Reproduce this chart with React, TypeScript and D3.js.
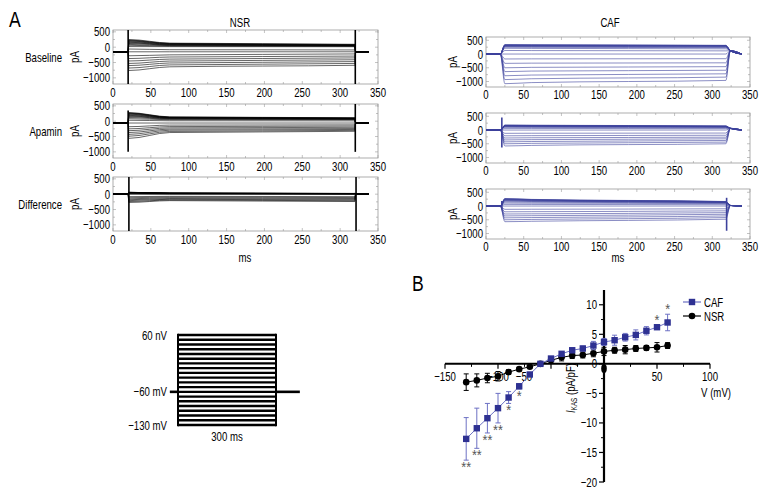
import React from "react";
import * as d3 from "d3";

// ---------------- data ----------------
const stepVoltages = [-130, -120, -110, -100, -90, -80, -70, -60, -50, -40, -30, -20, -10, 0, 10, 20, 30, 40, 50, 60];
const timeTicks = [0, 50, 100, 150, 200, 250, 300, 350];
const currentTicks = [500, 0, -500, -1000];
const rowLabels = ["Baseline", "Apamin", "Difference"];
const groupTitles = ["NSR", "CAF"];

// NSR current traces (pA) per voltage step: value just after onset, early in the step, at end of step
const nsrBaselineStart = [-760, -680, -600, -530, -450, -370, -280, -150, -60, 20, 60, 90, 120, 140, 160, 180, 200, 215, 230, 250];
const nsrBaselineEarly = [-640, -578, -515, -452, -388, -320, -250, -150, -82, 18, 38, 52, 66, 76, 86, 96, 106, 114, 122, 132];
const nsrBaselineEnd = [-590, -530, -470, -410, -350, -290, -220, -150, -90, 15, 28, 38, 46, 52, 58, 64, 70, 76, 84, 95];
const nsrApaminStart = [-560, -490, -430, -370, -310, -250, -180, -60, 30, 80, 120, 150, 170, 190, 210, 230, 245, 260, 270, 280];
const nsrApaminEarly = [-370, -335, -295, -258, -218, -176, -128, -60, 14, 48, 66, 80, 90, 100, 108, 114, 120, 126, 132, 140];
const nsrApaminEnd = [-330, -300, -270, -240, -200, -160, -120, -60, 10, 45, 55, 65, 75, 80, 85, 90, 95, 100, 105, 110];
const nsrDiffStart = [-270, -240, -210, -180, -150, -115, -80, 0, 10, 25, 35, 40, 45, 50, 50, 55, 55, 60, 60, 60];
const nsrDiffEarly = [-210, -190, -165, -145, -120, -95, -70, 0, 5, 15, 20, 25, 25, 30, 30, 30, 35, 35, 35, 35];
const nsrDiffEnd = [-240, -215, -190, -165, -140, -110, -80, 0, 0, 10, 12, 15, 15, 18, 18, 20, 20, 22, 22, 25];
const nsrHold = [-150, -60, 0];
const nsrSpikes = [
  [[20, -1200, 560], [320, -1200, 560]],
  [[20, -1000, 350], [320, -1000, 560]],
  [[21, -1200, 560], [321, -1200, 560]],
];

// CAF current traces (pA)
const cafBaselineStart = [-1080, -930, -790, -640, -500, -340, -180, 0, 130, 210, 250, 270, 285, 297, 306, 315, 322, 330, 335, 340];
const cafBaselineEarly = [-1040, -900, -765, -620, -485, -332, -176, 0, 126, 205, 246, 266, 281, 293, 302, 311, 318, 326, 331, 336];
const cafBaselineEnd = [-960, -840, -720, -590, -460, -320, -170, 0, 115, 190, 230, 250, 265, 278, 288, 296, 302, 308, 312, 316];
const cafApaminStart = [-580, -500, -430, -360, -290, -210, -120, 0, 60, 100, 120, 135, 145, 150, 155, 160, 165, 170, 175, 180];
const cafApaminEarly = [-560, -485, -418, -350, -282, -205, -117, 0, 58, 96, 116, 130, 140, 145, 150, 155, 160, 165, 170, 175];
const cafApaminEnd = [-500, -440, -380, -320, -260, -190, -110, 0, 50, 80, 100, 110, 115, 120, 125, 130, 135, 140, 145, 150];
const cafDiffStart = [-570, -500, -430, -360, -290, -210, -120, 0, 60, 110, 150, 180, 200, 215, 230, 240, 250, 258, 265, 270];
const cafDiffEarly = [-555, -488, -420, -352, -284, -206, -117, 0, 58, 104, 140, 165, 182, 195, 207, 216, 224, 231, 237, 242];
const cafDiffEnd = [-480, -420, -360, -300, -240, -175, -100, 0, 50, 90, 110, 120, 130, 135, 140, 145, 150, 155, 160, 165];
const cafHold = [0, 0, 0];
const cafTailPeak = [120, 60, 20];
const cafSpikes = [
  [],
  [[21, -640, 460]],
  [[21, -120, 180], [319, -900, 300]],
];

// I-V relation (pA/pF)
const ivXTicks = [-150, -100, -50, 50, 100];
const ivXMinor = [-125, -75, -25, 25, 75];
const ivYTicks = [10, 5, 0, -5, -10, -15, -20];
const ivYMinor = [7.5, 2.5, -2.5, -7.5, -12.5, -17.5];
const cafIvMean = [-12.7, -10.9, -9.2, -7.5, -5.7, -3.8, -1.8, 0, 0.9, 1.7, 2.3, 2.6, 3.1, 3.7, 4.0, 4.5, 4.9, 5.6, 6.2, 7.0];
const cafIvErr = [3.6, 3.4, 2.5, 2.5, 1.0, 0.45, 0.3, 0.2, 0.3, 0.35, 0.4, 0.4, 0.7, 0.6, 0.85, 0.65, 0.85, 0.7, 0.3, 1.4];
const nsrIvMean = [-3.1, -2.8, -2.4, -2.1, -1.4, -0.9, -0.5, 0, 0.6, 1.1, 1.4, 1.5, 1.8, 2.1, 2.3, 2.4, 2.6, 2.7, 2.8, 3.1];
const nsrIvErr = [1.4, 1.1, 0.8, 0.8, 0.4, 0.3, 0.2, 0.1, 0.2, 0.6, 0.5, 0.5, 0.6, 0.7, 0.5, 0.7, 0.5, 0.4, 0.8, 0.5];
const cafStars = ["**", "**", "**", "**", "*", "*", "", "", "", "", "", "", "", "", "", "", "", "", "*", "*"];
const legendLabels = ["CAF", "NSR"];

// voltage protocol
const protocolLabels = ["60 nV", "\u221260 mV", "\u2212130 mV"];
const protocolLabelLevels = [60, -60, -130];
const protocolHolding = -60;

// ---------------- layout / style ----------------
const W = 780;
const H = 504;
const FONT = "'Liberation Sans',Arial,sans-serif";
const SX = 0.74; // horizontal condensing of the text
const NAVY = "#2e3192";
const BLUE_LINE = "#6d71c4";
const TRACE_BLUE = "#3d419c";

const fmt = (v: number) => (v < 0 ? "\u2212" + Math.abs(v) : String(v));

function T(props: {
  x: number; y: number; anchor?: string; size?: number; rotate?: number; dy?: string;
  fill?: string; children: React.ReactNode; sx?: number;
}) {
  const { x, y, anchor = "start", size = 13, rotate = 0, dy, fill = "#000", children, sx = SX } = props;
  const tr = `translate(${x},${y})` + (rotate ? ` rotate(${rotate})` : "") + ` scale(${sx},1)`;
  return (
    <text transform={tr} textAnchor={anchor as any} fontSize={size} dy={dy} fill={fill}>
      {children}
    </text>
  );
}

type Spec = { hold: number; start: number[]; early: number[]; end: number[]; spikes: number[][]; tail: number };
type Knots = { on: number; rise: number; early: number; off: number; back: number; tailEnd: number };

const nsrSpecs: Spec[] = [
  { hold: nsrHold[0], start: nsrBaselineStart, early: nsrBaselineEarly, end: nsrBaselineEnd, spikes: nsrSpikes[0], tail: nsrHold[0] },
  { hold: nsrHold[1], start: nsrApaminStart, early: nsrApaminEarly, end: nsrApaminEnd, spikes: nsrSpikes[1], tail: nsrHold[1] },
  { hold: nsrHold[2], start: nsrDiffStart, early: nsrDiffEarly, end: nsrDiffEnd, spikes: nsrSpikes[2], tail: nsrHold[2] },
];
const cafSpecs: Spec[] = [
  { hold: cafHold[0], start: cafBaselineStart, early: cafBaselineEarly, end: cafBaselineEnd, spikes: cafSpikes[0], tail: cafTailPeak[0] },
  { hold: cafHold[1], start: cafApaminStart, early: cafApaminEarly, end: cafApaminEnd, spikes: cafSpikes[1], tail: cafTailPeak[1] },
  { hold: cafHold[2], start: cafDiffStart, early: cafDiffEarly, end: cafDiffEnd, spikes: cafSpikes[2], tail: cafTailPeak[2] },
];
const nsrKnots: Knots = { on: 20, rise: 20.8, early: 75, off: 319.5, back: 320.5, tailEnd: 338 };
const cafKnots: Knots = { on: 19, rise: 25, early: 60, off: 318, back: 324, tailEnd: 339 };

function TracePanel(props: {
  id: string; spec: Spec; knots: Knots; x0: number; x1: number; top: number; h: number;
  domain: [number, number]; color: string; labelDy: number; pAx: number;
}) {
  const { id, spec, knots, x0, x1, top, h, domain, color, labelDy, pAx } = props;
  const x = d3.scaleLinear().domain([0, 350]).range([x0, x1]);
  const y = d3.scaleLinear().domain(domain).range([top + h, top]);
  const line = d3.line<number[]>().x((d) => x(d[0])).y((d) => y(d[1])).curve(d3.curveMonotoneX);
  const minorT = d3.range(0, 351, 25);
  const minorI = d3.range(-1000, 501, 250);
  return (
    <g>
      <defs>
        <clipPath id={id}>
          <rect x={x0 - 14} y={top} width={x1 - x0 + 28} height={h} />
        </clipPath>
      </defs>
      <rect x={x0} y={top} width={x1 - x0} height={h} fill="none" stroke="#9a9a9a" strokeWidth={0.8} />
      {minorT.map((t) => (
        <g key={"t" + t} stroke="#9a9a9a" strokeWidth={0.6}>
          <line x1={x(t)} x2={x(t)} y1={top} y2={top + (t % 50 === 0 ? 3 : 2)} />
          <line x1={x(t)} x2={x(t)} y1={top + h} y2={top + h - (t % 50 === 0 ? 3 : 2)} />
        </g>
      ))}
      {minorI.map((v) => (
        <g key={"i" + v} stroke="#9a9a9a" strokeWidth={0.6}>
          <line x1={x0} x2={x0 + (v % 500 === 0 ? 3 : 2)} y1={y(v)} y2={y(v)} />
          <line x1={x1} x2={x1 - (v % 500 === 0 ? 3 : 2)} y1={y(v)} y2={y(v)} />
        </g>
      ))}
      <g clipPath={`url(#${id})`}>
        {stepVoltages.map((v, i) => {
          const pts = [
            [0, spec.hold], [knots.on, spec.hold], [knots.rise, spec.start[i]], [knots.early, spec.early[i]],
            [knots.off, spec.end[i]], [knots.back, spec.tail], [knots.tailEnd, spec.hold],
          ];
          return <path key={v} d={line(pts) || ""} fill="none" stroke={color} strokeWidth={0.6} />;
        })}
        <line x1={x(0)} x2={x(knots.on)} y1={y(spec.hold)} y2={y(spec.hold)} stroke={color} strokeWidth={1.4} />
        {spec.spikes.map((s, k) => (
          <line key={k} x1={x(s[0])} x2={x(s[0])} y1={y(s[1])} y2={y(s[2])} stroke={color} strokeWidth={1.6} />
        ))}
      </g>
      {currentTicks.map((v) => (
        <T key={v} x={x0 - 3} y={y(v)} dy="0.35em" anchor="end">{fmt(v)}</T>
      ))}
      <T x={pAx} y={top + h / 2} rotate={-90} anchor="middle" dy="0.35em">pA</T>
      {timeTicks.map((t) => (
        <T key={t} x={x(t)} y={top + h + labelDy} anchor="middle">{t}</T>
      ))}
    </g>
  );
}

function IVPlot() {
  const x = d3.scaleLinear().domain([-150, 100]).range([445, 710]);
  const y = d3.scaleLinear().domain([-20, 12.5]).range([482, 290]);
  const line = d3.line<number>().x((_, i) => x(stepVoltages[i])).y((d) => y(d));
  const x0 = x(0);
  const y0 = y(0);
  return (
    <g>
      <line x1={x(-150)} x2={x(100)} y1={y0} y2={y0} stroke="#000" strokeWidth={2} />
      <line x1={x0} x2={x0} y1={y(12.5)} y2={y(-20)} stroke="#000" strokeWidth={2.2} />
      {ivXTicks.map((v) => (
        <line key={v} x1={x(v)} x2={x(v)} y1={y0} y2={y0 + 5} stroke="#000" strokeWidth={1.2} />
      ))}
      {ivXMinor.map((v) => (
        <line key={v} x1={x(v)} x2={x(v)} y1={y0} y2={y0 + 3} stroke="#000" strokeWidth={1} />
      ))}
      {ivYTicks.map((v) => (
        <line key={v} x1={x0 - 5} x2={x0} y1={y(v)} y2={y(v)} stroke="#000" strokeWidth={1.2} />
      ))}
      {ivYMinor.map((v) => (
        <line key={v} x1={x0 - 3} x2={x0} y1={y(v)} y2={y(v)} stroke="#000" strokeWidth={1} />
      ))}
      {ivYTicks.map((v) => (
        <T key={v} x={x0 - 7} y={y(v)} dy="0.35em" anchor="end">{fmt(v)}</T>
      ))}
      {ivXTicks.map((v) => (
        <T key={v} x={x(v) + (v === -50 ? -27 : 0)} y={y0 + 17} anchor="middle">{fmt(v)}</T>
      ))}
      <T x={731} y={397} anchor="end">V (mV)</T>
      <text transform={`translate(575,388) rotate(-90) scale(${SX},1)`} textAnchor="middle" fontSize={13}>
        <tspan fontStyle="italic">I</tspan>
        <tspan fontSize={8.5} dy={2}>KAS</tspan>
        <tspan dy={-2}> (pA/pF)</tspan>
      </text>
      <ellipse cx={x0} cy={y(-0.8)} rx={2.8} ry={4.5} fill="#000" />

      {/* NSR */}
      <path d={line(nsrIvMean) || ""} fill="none" stroke="#000" strokeWidth={1} />
      {nsrIvMean.map((m, i) => {
        const cx = x(stepVoltages[i]);
        const e = nsrIvErr[i];
        return (
          <g key={i} stroke="#000" strokeWidth={1}>
            <line x1={cx} x2={cx} y1={y(m - e)} y2={y(m + e)} />
            <line x1={cx - 2.5} x2={cx + 2.5} y1={y(m - e)} y2={y(m - e)} />
            <line x1={cx - 2.5} x2={cx + 2.5} y1={y(m + e)} y2={y(m + e)} />
            <circle cx={cx} cy={y(m)} r={3.3} fill="#000" stroke="none" />
          </g>
        );
      })}
      {/* CAF */}
      <path d={line(cafIvMean) || ""} fill="none" stroke={BLUE_LINE} strokeWidth={1} />
      {cafIvMean.map((m, i) => {
        const cx = x(stepVoltages[i]);
        const e = cafIvErr[i];
        return (
          <g key={i} stroke={BLUE_LINE} strokeWidth={1}>
            <line x1={cx} x2={cx} y1={y(m - e)} y2={y(m + e)} />
            <line x1={cx - 2.5} x2={cx + 2.5} y1={y(m - e)} y2={y(m - e)} />
            <line x1={cx - 2.5} x2={cx + 2.5} y1={y(m + e)} y2={y(m + e)} />
            <rect x={cx - 3.2} y={y(m) - 3.2} width={6.4} height={6.4} fill={NAVY} stroke="none" />
          </g>
        );
      })}
      {cafIvMean.map((m, i) => {
        const s = cafStars[i];
        if (!s) return null;
        const cx = x(stepVoltages[i]);
        const e = cafIvErr[i];
        const cy = m < 0 ? y(m - e) + 5 : y(m + e) - 7;
        return (
          <T key={"s" + i} x={cx} y={cy + 7} anchor="middle" size={14} fill="#555" sx={0.9}>{s}</T>
        );
      })}
      {legendLabels.map((lab, k) => {
        const ly = 302 + k * 14;
        return (
          <g key={lab}>
            <line x1={683} x2={701} y1={ly} y2={ly} stroke={k === 0 ? BLUE_LINE : "#000"} strokeWidth={1.2} />
            {k === 0 ? (
              <rect x={692 - 3.2} y={ly - 3.2} width={6.4} height={6.4} fill={NAVY} />
            ) : (
              <circle cx={692} cy={ly} r={3.3} fill="#000" />
            )}
            <T x={704} y={ly} dy="0.35em">{lab}</T>
          </g>
        );
      })}
    </g>
  );
}

function Protocol() {
  const x = d3.scaleLinear().domain([0, 300]).range([178, 276]);
  const y = d3.scaleLinear().domain([-130, 60]).range([425, 335]);
  return (
    <g>
      {stepVoltages.map((v) => (
        <line key={v} x1={x(0)} x2={x(300)} y1={y(v)} y2={y(v)} stroke="#000" strokeWidth={2.4} />
      ))}
      <line x1={x(0)} x2={x(0)} y1={y(60) - 1.2} y2={y(-130) + 1.2} stroke="#000" strokeWidth={2} />
      <line x1={x(300)} x2={x(300)} y1={y(60) - 1.2} y2={y(-130) + 1.2} stroke="#000" strokeWidth={2} />
      <line x1={x(-25)} x2={x(0)} y1={y(protocolHolding)} y2={y(protocolHolding)} stroke="#000" strokeWidth={2.6} />
      <line x1={x(300)} x2={x(373)} y1={y(protocolHolding)} y2={y(protocolHolding)} stroke="#000" strokeWidth={2.6} />
      {protocolLabels.map((lab, k) => (
        <T key={lab} x={167} y={y(protocolLabelLevels[k])} dy="0.35em" anchor="end">{lab}</T>
      ))}
      <T x={x(150)} y={441} anchor="middle">300 ms</T>
    </g>
  );
}

export default function App() {
  const nsrTops = [30, 104, 177];
  const cafTops = [37, 113, 189];
  const rowY = [57, 131, 204];
  return (
    <svg width={W} height={H} viewBox={`0 0 ${W} ${H}`}
      style={{ position: "absolute", left: 0, top: 0, background: "#fff" }}
      fontFamily={FONT} fill="#000">
      <rect x={0} y={0} width={W} height={H} fill="#fff" />
      <T x={9} y={27} size={22} sx={0.8}>A</T>
      <T x={412} y={291} size={22} sx={0.8}>B</T>
      <T x={240} y={27} anchor="middle">{groupTitles[0]}</T>
      <T x={610} y={27} anchor="middle">{groupTitles[1]}</T>
      {rowLabels.map((lab, k) => (
        <T key={lab} x={62} y={rowY[k]} dy="0.35em" anchor="end">{lab}</T>
      ))}
      {nsrSpecs.map((s, k) => (
        <TracePanel key={"n" + k} id={"nclip" + k} spec={s} knots={nsrKnots} x0={113} x1={378}
          top={nsrTops[k]} h={54} domain={[-1200, 560]} color="#000" labelDy={13} pAx={74} />
      ))}
      {cafSpecs.map((s, k) => (
        <TracePanel key={"c" + k} id={"cclip" + k} spec={s} knots={cafKnots} x0={486} x1={750}
          top={cafTops[k]} h={50} domain={[-1200, 620]} color={TRACE_BLUE} labelDy={12} pAx={452} />
      ))}
      <T x={245} y={262} anchor="middle">ms</T>
      <T x={618} y={262} anchor="middle">ms</T>
      <Protocol />
      <IVPlot />
    </svg>
  );
}
